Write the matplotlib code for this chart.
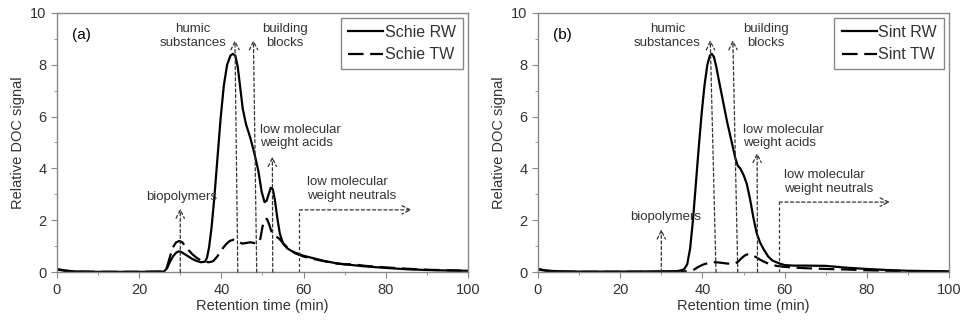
"""Relative DOC signal chromatograms, Schie (a) and Sint (b)."""

import matplotlib.pyplot as plt
from matplotlib.ticker import MultipleLocator

plt.rcParams['font.family'] = ['Liberation Sans', 'DejaVu Sans']

# retention time (min) and signal
schie_rw_t = [0, 1, 2, 4, 6, 10, 20, 26, 26.8, 27.5, 28.2, 29, 29.6, 30.2, 31, 32, 33, 34,
              35, 36, 36.5, 37, 37.6, 38.3, 39, 39.8, 40.6, 41.4, 42.2, 42.8, 43.4, 44,
              44.6, 45.2, 46, 47, 48, 49, 49.8, 50.5, 51, 51.5, 52, 52.5, 53, 53.6,
              54.2, 55, 56, 57, 58, 60, 62, 65, 68, 70, 75, 80, 85, 90, 95, 100]
schie_rw_v = [0.12, 0.09, 0.06, 0.03, 0.02, 0.01, 0.01, 0.02, 0.15, 0.4, 0.6, 0.75, 0.8,
              0.78, 0.7, 0.6, 0.5, 0.43, 0.38, 0.4, 0.55, 0.95, 1.7, 2.9, 4.3, 5.9, 7.2,
              8.0, 8.35, 8.42, 8.35, 7.9, 7.1, 6.3, 5.7, 5.2, 4.6, 3.9, 3.1, 2.7, 2.75,
              3.0, 3.25, 3.2, 2.8, 2.1, 1.5, 1.1, 0.92, 0.82, 0.75, 0.63, 0.55, 0.43,
              0.34, 0.3, 0.22, 0.16, 0.11, 0.08, 0.06, 0.05]
schie_tw_t = [0, 2, 5, 10, 20, 26, 26.8, 27.5, 28.2, 29, 29.8, 30.5, 31.2, 32, 33, 34, 35,
              36, 37, 38, 39, 40, 41, 42, 43, 44, 45, 46, 47, 48, 48.8, 49.5, 50,
              50.6, 51.1, 51.6, 52.1, 52.6, 53.2, 54, 55, 56, 57, 58, 60, 62, 65, 68,
              70, 72, 75, 80, 85, 90, 95, 100]
schie_tw_v = [0.1, 0.05, 0.02, 0.01, 0.01, 0.02, 0.2, 0.6, 0.95, 1.15, 1.2, 1.15, 1.0,
              0.85, 0.68, 0.55, 0.45, 0.4, 0.38, 0.42, 0.6, 0.85, 1.05, 1.2, 1.25, 1.2,
              1.1, 1.12, 1.15, 1.12, 1.1, 1.3, 1.75, 2.05, 2.05, 1.85, 1.6, 1.45, 1.38,
              1.3, 1.12, 0.95, 0.82, 0.72, 0.6, 0.52, 0.42, 0.33, 0.3, 0.3, 0.24, 0.18,
              0.13, 0.09, 0.07, 0.05]

sint_rw_t = [0, 1, 2, 4, 6, 10, 20, 30, 34, 35.5, 36.3, 37, 37.7, 38.4, 39.1, 39.8, 40.5,
             41.2, 41.8, 42.3, 42.8, 43.4, 44, 45, 46, 47, 48, 48.6, 49.2, 50, 50.8,
             51.6, 52.4, 53.2, 54, 55, 56, 57, 58, 59, 60, 62, 65, 70, 75, 80, 85, 90,
             95, 100]
sint_rw_v = [0.13, 0.09, 0.06, 0.04, 0.03, 0.02, 0.02, 0.03, 0.04, 0.1, 0.3, 0.9, 2.0,
             3.4, 4.8, 6.1, 7.2, 8.0, 8.35, 8.42, 8.3, 7.9, 7.4, 6.6, 5.8, 5.1, 4.4,
             4.1, 4.0, 3.75, 3.4, 2.8, 2.1, 1.5, 1.15, 0.85, 0.6, 0.45, 0.38, 0.32,
             0.27, 0.25, 0.25, 0.24, 0.17, 0.12, 0.08, 0.05, 0.04, 0.03]
sint_tw_t = [0, 2, 5, 10, 20, 30, 35, 37, 38, 39, 40, 41, 42, 43, 44, 45, 46, 47, 48,
             48.8, 49.6, 50.4, 51.2, 52, 53, 54, 55, 56, 57, 58, 60, 62, 65, 70, 75,
             80, 85, 90, 95, 100]
sint_tw_v = [0.1, 0.05, 0.02, 0.01, 0.01, 0.01, 0.02, 0.04, 0.1, 0.2, 0.28, 0.33, 0.37,
             0.38, 0.37, 0.35, 0.33, 0.32, 0.33, 0.42, 0.55, 0.65, 0.7, 0.66, 0.58,
             0.48, 0.4, 0.33, 0.28, 0.24, 0.2, 0.18, 0.15, 0.12, 0.1, 0.07, 0.05, 0.04,
             0.03, 0.02]

panels = [
    dict(tag='(a)', rw=(schie_rw_t, schie_rw_v), tw=(schie_tw_t, schie_tw_v),
         names=['Schie RW', 'Schie TW'],
         bio=(30, 2.45, 30.3, 2.9), humic=(44.0, 43.3, 8.95, 41.2),
         build=(48.6, 47.8, 8.95, 49.9),
         acids=(52.5, 52.4, 4.45, 49.4, 5.23), neutr=(59.0, 2.4, 86.3, 60.8, 3.2)),
    dict(tag='(b)', rw=(sint_rw_t, sint_rw_v), tw=(sint_tw_t, sint_tw_v),
         names=['Sint RW', 'Sint TW'],
         bio=(30, 1.65, 31.0, 2.12), humic=(43.3, 41.9, 8.95, 39.6),
         build=(48.6, 47.4, 8.95, 49.9),
         acids=(53.4, 53.3, 4.6, 49.9, 5.23), neutr=(58.7, 2.7, 85.6, 59.9, 3.49)),
]

grey = '#333333'
anno = dict(color='#333333', lw=0.9, ls=(0, (2.5, 2)))
arrow_kw = dict(arrowstyle='->', color='#333333', lw=0.9, linestyle=(0, (2.5, 2)),
                shrinkA=0, shrinkB=0, mutation_scale=15)


def vertical_arrow(ax, x0, x1, ytop):
    ax.annotate('', xy=(x1, ytop), xytext=(x0, 0), arrowprops=arrow_kw)


fig = plt.figure(figsize=(9.65, 3.22), dpi=100)
lefts = [0.059, 0.5575]
for p, left in zip(panels, lefts):
    ax = fig.add_axes([left, 0.155, 0.426, 0.805])
    ax.plot(*p['rw'], color='black', lw=1.6, label=p['names'][0])
    ax.plot(*p['tw'], color='black', lw=1.6, ls=(0, (7, 3)), label=p['names'][1])

    bx, btop, tx, ty = p['bio']
    vertical_arrow(ax, bx, bx, btop)
    ax.text(tx, ty, 'biopolymers', ha='center', va='center', fontsize=9.5, color=grey)

    x0, x1, top, tx = p['humic']
    vertical_arrow(ax, x0, x1, top)
    ax.text(tx, 9.1, 'humic\nsubstances', ha='right', va='center',
            multialignment='center', fontsize=9.5, color=grey, linespacing=1.2)

    x0, x1, top, tx = p['build']
    vertical_arrow(ax, x0, x1, top)
    ax.text(tx, 9.1, 'building\nblocks', ha='left', va='center',
            multialignment='center', fontsize=9.5, color=grey, linespacing=1.2)

    x0, x1, top, tx, ty = p['acids']
    vertical_arrow(ax, x0, x1, top)
    ax.text(tx, ty, 'low molecular\nweight acids', ha='left', va='center',
            fontsize=9.5, color=grey, linespacing=1.2)

    nx_, ny, nend, tx, ty = p['neutr']
    ax.plot([nx_, nx_], [0, ny], **anno)
    ax.annotate('', xy=(nend, ny), xytext=(nx_, ny), arrowprops=arrow_kw)
    ax.text(tx, ty, 'low molecular\nweight neutrals', ha='left', va='center',
            fontsize=9.5, color=grey, linespacing=1.2)

    ax.text(3.6, 9.15, p['tag'], ha='left', va='center', fontsize=11, color='black')

    ax.set_xlim(0, 100)
    ax.set_ylim(0, 10)
    ax.xaxis.set_major_locator(MultipleLocator(20))
    ax.xaxis.set_minor_locator(MultipleLocator(10))
    ax.yaxis.set_major_locator(MultipleLocator(2))
    ax.yaxis.set_minor_locator(MultipleLocator(1))
    ax.tick_params(which='major', direction='out', length=4, color='#888888',
                   labelsize=10.5, labelcolor=grey)
    ax.tick_params(which='minor', direction='out', length=2.5, color='#888888')
    for s in ax.spines.values():
        s.set_color('#888888')
        s.set_linewidth(1.0)
    ax.set_xlabel('Retention time (min)', fontsize=10.5, color=grey, labelpad=2)
    ax.set_ylabel('Relative DOC signal', fontsize=10.5, color=grey, labelpad=4)

    leg = ax.legend(loc='upper right', bbox_to_anchor=(0.988, 0.981), fontsize=11.5,
                    handlelength=2.2, handletextpad=0.1, fancybox=False,
                    edgecolor='#888888', framealpha=1, borderpad=0.45,
                    labelspacing=0.45, borderaxespad=0)
    leg.get_frame().set_linewidth(1.0)
    for t in leg.get_texts():
        t.set_color(grey)

fig.savefig('out.png', dpi=100)
